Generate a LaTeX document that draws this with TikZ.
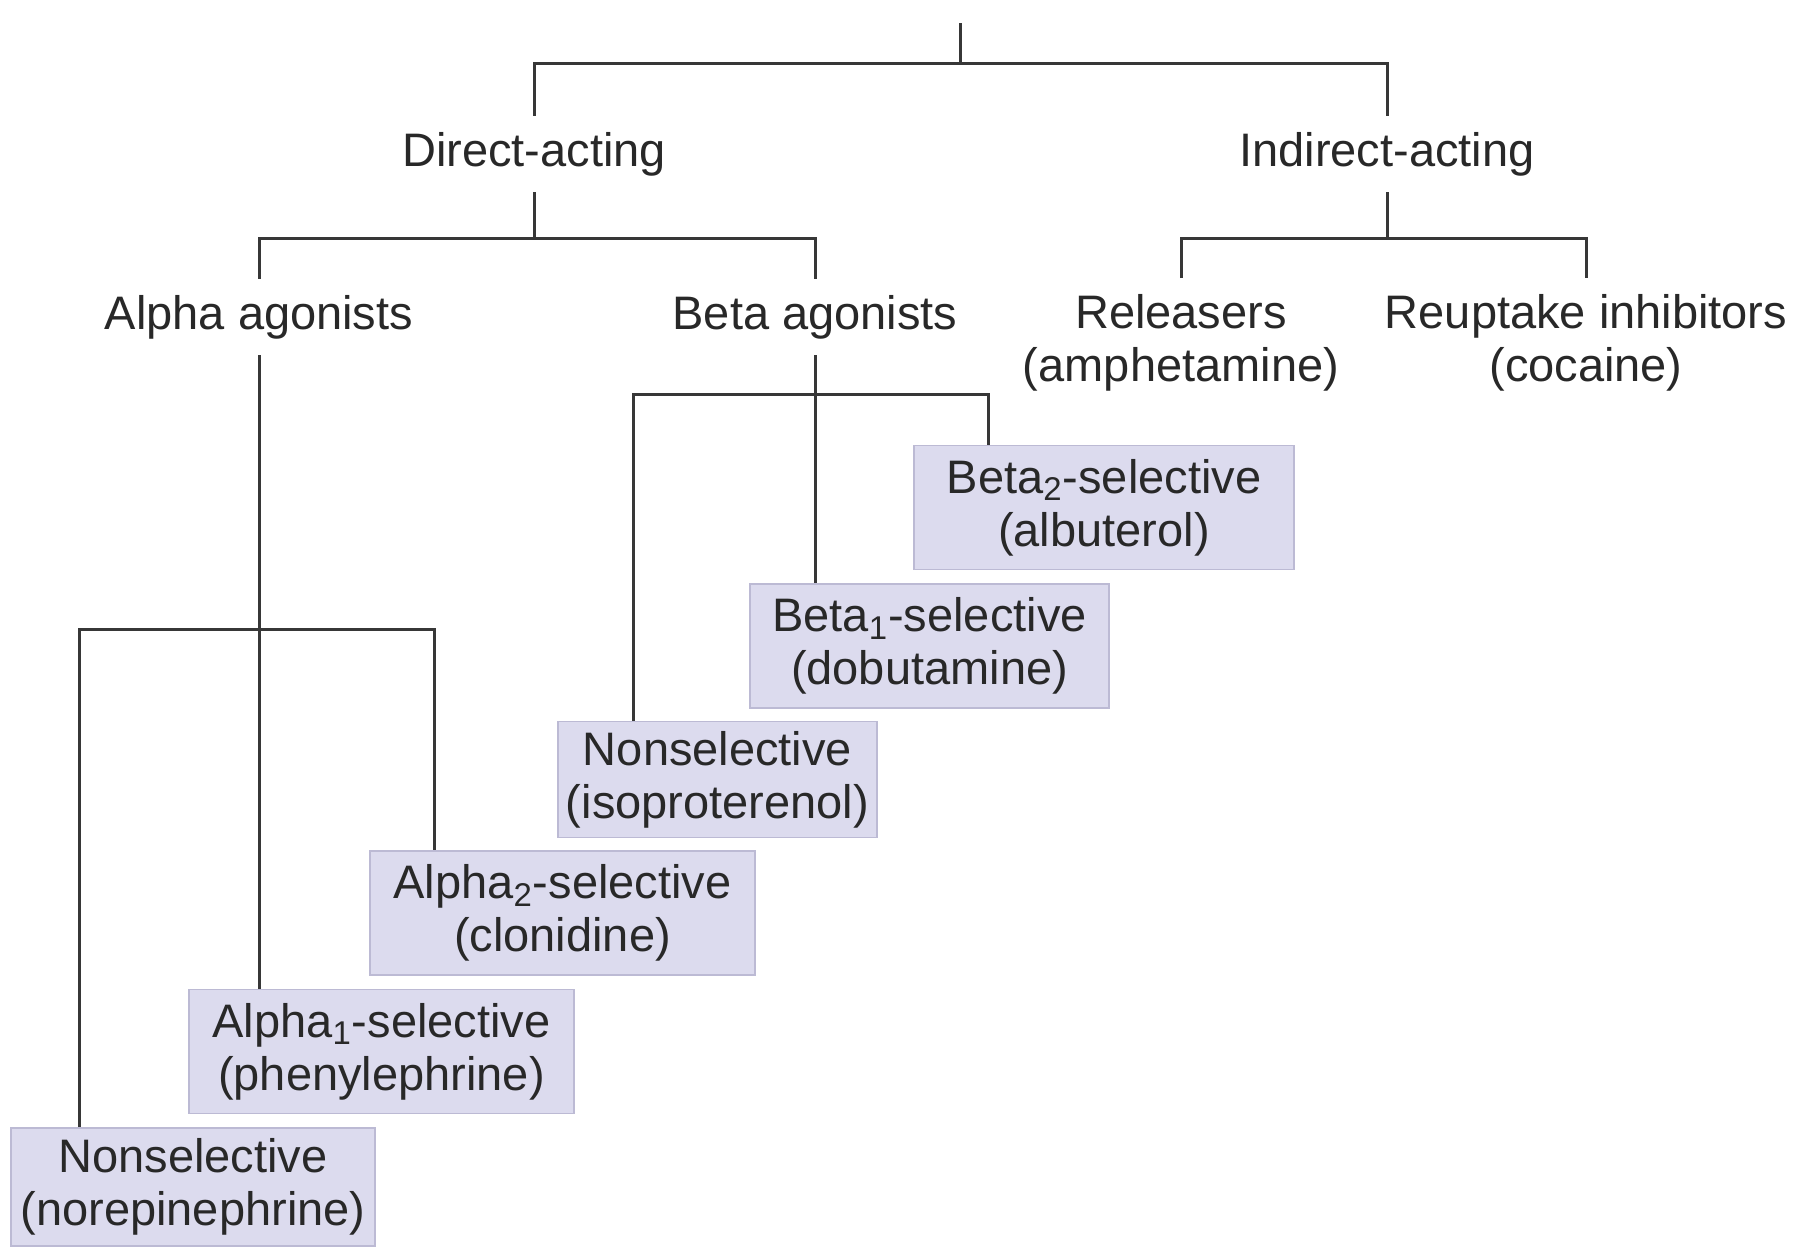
\documentclass[tikz,border=0pt]{standalone}
\usepackage{fontspec}
\setmainfont{Liberation Sans}
\definecolor{txt}{RGB}{40,40,40}
\definecolor{ln}{RGB}{55,55,55}
\definecolor{boxfill}{RGB}{220,219,238}
\definecolor{boxdraw}{RGB}{188,186,212}
\begin{document}
\begin{tikzpicture}[x=0.5pt,y=-0.5pt,
  every node/.style={font=\fontsize{23.5}{26.5}\selectfont, text=txt},
  lbl/.style={inner xsep=0pt, inner ysep=8pt, align=center},
  drug/.style={fill=boxfill, draw=boxdraw, line width=0.8pt, inner sep=0pt, align=center, minimum height=62pt},
  conn/.style={draw=ln, line width=1.5pt}]
\path[use as bounding box] (0,0) rectangle (1796,1248);
\fill[white] (0,0) rectangle (1796,1248);
% title (cut off at top, as in the reference)
\node[anchor=base, inner sep=0pt] (title) at (960,-10) {Sympathomimetic drugs};
\coordinate (top) at (960,23);
% level 1
\node[lbl] (direct) at (534,154) {Direct-acting};
\node[lbl] (indirect) at (1387,154) {Indirect-acting};
% level 2
\node[lbl] (alpha) at (259,317) {Alpha agonists};
\node[lbl] (beta) at (815,317) {Beta agonists};
\node[lbl] (rel) at (1181,343) {Releasers\\(amphetamine)};
\node[lbl] (reup) at (1586,343) {Reuptake inhibitors\\(cocaine)};
% boxes
\node[drug, minimum width=190pt] (beta2) at (1104,507.5) {Beta\textsubscript{2}-selective\\(albuterol)};
\node[drug, minimum width=179.5pt] (beta1) at (929.5,646) {Beta\textsubscript{1}-selective\\(dobutamine)};
\node[drug, minimum width=159.5pt, minimum height=58pt] (nsiso) at (717.5,779.5) {Nonselective\\(isoproterenol)};
\node[drug, minimum width=192.5pt] (alpha2) at (562.5,913) {Alpha\textsubscript{2}-selective\\(clonidine)};
\node[drug, minimum width=192.5pt] (alpha1) at (381.5,1051.5) {Alpha\textsubscript{1}-selective\\(phenylephrine)};
\node[drug, minimum width=182pt, minimum height=59pt] (nsnor) at (193,1187) {Nonselective\\(norepinephrine)};
% junction coordinates
\coordinate (j0) at (960,63);
\coordinate (j1) at (534,238);
\coordinate (j2) at (1387,238);
\coordinate (ja1) at (79,629);
\coordinate (ja2) at (434,629);
\coordinate (jb1) at (633,394);
\coordinate (jb2) at (988,394);
% connectors
\draw[conn] (top) -- (j0);
\draw[conn] (direct.north) |- (j0) -| (indirect.north);
\draw[conn] (direct.south) -- (j1);
\draw[conn] (alpha.north) |- (j1) -| (beta.north);
\draw[conn] (indirect.south) -- (j2);
\draw[conn] (rel.north) |- (j2) -| (reup.north);
\draw[conn] (alpha.south) -- (alpha.south |- alpha1.north);
\draw[conn] (ja1 |- nsnor.north) -- (ja1) -- (ja2) -- (ja2 |- alpha2.north);
\draw[conn] (beta.south) -- (beta.south |- beta1.north);
\draw[conn] (jb1 |- nsiso.north) -- (jb1) -- (jb2) -- (jb2 |- beta2.north);
\end{tikzpicture}
\end{document}
